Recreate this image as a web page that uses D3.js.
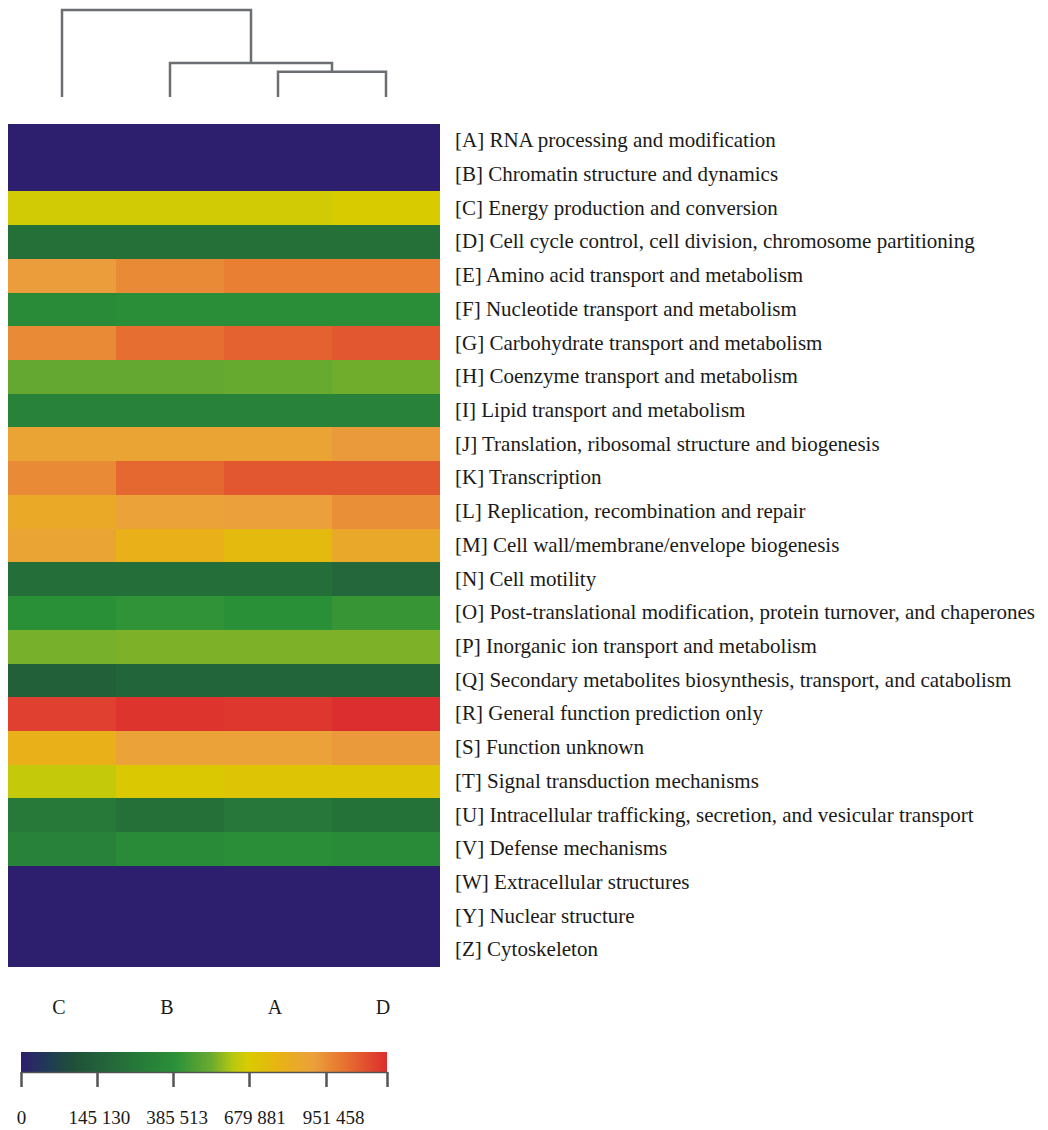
<!DOCTYPE html>
<html>
<head>
<meta charset="utf-8">
<script src="https://cdn.jsdelivr.net/npm/d3@7"></script>
<style>
  body { margin: 0; background: #fff; }
  text { font-family: "Liberation Serif", "DejaVu Serif", serif; fill: #1a1a1a; }
</style>
</head>
<body>
<div id="chart"></div>
<script>
// COG categories, top to bottom
let categories = [
  "[A] RNA processing and modification",
  "[B] Chromatin structure and dynamics",
  "[C] Energy production and conversion",
  "[D] Cell cycle control, cell division, chromosome partitioning",
  "[E] Amino acid transport and metabolism",
  "[F] Nucleotide transport and metabolism",
  "[G] Carbohydrate transport and metabolism",
  "[H] Coenzyme transport and metabolism",
  "[I] Lipid transport and metabolism",
  "[J] Translation, ribosomal structure and biogenesis",
  "[K] Transcription",
  "[L] Replication, recombination and repair",
  "[M] Cell wall/membrane/envelope biogenesis",
  "[N] Cell motility",
  "[O] Post-translational modification, protein turnover, and chaperones",
  "[P] Inorganic ion transport and metabolism",
  "[Q] Secondary metabolites biosynthesis, transport, and catabolism",
  "[R] General function prediction only",
  "[S] Function unknown",
  "[T] Signal transduction mechanisms",
  "[U] Intracellular trafficking, secretion, and vesicular transport",
  "[V] Defense mechanisms",
  "[W] Extracellular structures",
  "[Y] Nuclear structure",
  "[Z] Cytoskeleton"
];

// samples in dendrogram (column) order
let samples = ["C", "B", "A", "D"];

// values per sample, same order as categories
let valuesC = [0, 0, 661000, 229000, 915000, 368000, 960000, 520000, 322000, 883000, 960000, 844000, 883000,
  217000, 393000, 548000, 148000, 1128000, 805000, 640000, 275000, 322000, 0, 0, 0];
let valuesB = [0, 0, 661000, 229000, 960000, 380000, 1025000, 520000, 322000, 883000, 1038000, 896000, 805000,
  217000, 407000, 555000, 171000, 1154000, 896000, 689000, 229000, 368000, 0, 0, 0];
let valuesA = [0, 0, 661000, 229000, 986000, 380000, 1051000, 527000, 322000, 883000, 1077000, 909000, 754000,
  217000, 393000, 555000, 171000, 1148000, 896000, 708000, 264000, 380000, 0, 0, 0];
let valuesD = [0, 0, 675000, 229000, 986000, 380000, 1077000, 541000, 322000, 922000, 1077000, 948000, 857000,
  183000, 421000, 555000, 171000, 1167000, 922000, 708000, 241000, 368000, 0, 0, 0];

// dendrogram merge heights (leaf = 0, root = 1)
let mergeAD = 0.29;
let mergeBAD = 0.39;
let mergeRoot = 1.0;

// colour legend breaks (last one unlabeled)
let legendBreaks = [0, 145130, 385513, 679881, 951458, 1167000];

// colour ramp along the legend bar (0..1)
let rampStops = [0, 0.08, 0.15, 0.21, 0.42, 0.52, 0.58, 0.62, 0.70, 0.80, 0.88, 1.0];
let rampColors = ["#2e1f6e", "#1f3d52", "#1f5238", "#22603a", "#2a9038", "#6aab30", "#b8c810",
  "#d8cc00", "#e8b412", "#eba03c", "#e77430", "#dc2e2e"];

let W = 1048, H = 1130;
let heat = {left: 8, top: 124, width: 432, height: 843};
let dendro = {top: 10, bottom: 97};
let legend = {left: 21, top: 1052, width: 366, height: 20};

let svg = d3.select("#chart").append("svg")
    .attr("width", W)
    .attr("height", H);

let columns = {C: valuesC, B: valuesB, A: valuesA, D: valuesD};

let x = d3.scaleBand()
    .domain(samples)
    .range([heat.left, heat.left + heat.width]);

let y = d3.scaleBand()
    .domain(categories)
    .range([heat.top, heat.top + heat.height]);

// value -> legend position (ticks equally spaced, last segment shorter)
let legendX = d3.scaleLinear()
    .domain(legendBreaks)
    .range([0, 76, 152, 228, 305, 366]);

let ramp = d3.scaleLinear()
    .domain(rampStops)
    .range(rampColors)
    .interpolate(d3.interpolateRgb);

let colour = v => ramp(legendX(v) / legend.width);

// heatmap cells
let cells = [];
samples.forEach(s => {
    columns[s].forEach((v, i) => cells.push({sample: s, cat: categories[i], value: v}));
});

svg.append("g")
    .attr("shape-rendering", "crispEdges")
    .selectAll("rect")
    .data(cells)
    .enter()
    .append("rect")
    .attr("x", d => Math.round(x(d.sample)))
    .attr("y", d => Math.round(y(d.cat)))
    .attr("width", d => Math.round(x(d.sample) + x.bandwidth()) - Math.round(x(d.sample)))
    .attr("height", d => Math.round(y(d.cat) + y.bandwidth()) - Math.round(y(d.cat)))
    .attr("fill", d => colour(d.value));

// row labels
svg.append("g")
    .selectAll("text")
    .data(categories)
    .enter()
    .append("text")
    .attr("x", heat.left + heat.width + 15)
    .attr("y", d => y(d) + y.bandwidth() / 2 - 1)
    .attr("dy", "0.35em")
    .attr("font-size", 21)
    .text(d => d);

// column labels
svg.append("g")
    .selectAll("text")
    .data(samples)
    .enter()
    .append("text")
    .attr("x", d => x(d) + x.bandwidth() / 2 - 3)
    .attr("y", 1007)
    .attr("dy", "0.35em")
    .attr("text-anchor", "middle")
    .attr("font-size", 20)
    .text(d => d);

// dendrogram
let hy = d3.scaleLinear().domain([0, 1]).range([dendro.bottom, dendro.top]);
let cx = s => x(s) + x.bandwidth() / 2;

let nodeAD = {x: (cx("A") + cx("D")) / 2, h: mergeAD};
let nodeBAD = {x: (cx("B") + nodeAD.x) / 2, h: mergeBAD};
let links = [
    {a: {x: cx("A"), h: 0}, b: {x: cx("D"), h: 0}, h: mergeAD},
    {a: {x: cx("B"), h: 0}, b: nodeAD, h: mergeBAD},
    {a: {x: cx("C"), h: 0}, b: nodeBAD, h: mergeRoot}
];

svg.append("g")
    .selectAll("path")
    .data(links)
    .enter()
    .append("path")
    .attr("fill", "none")
    .attr("stroke", "#6b6e72")
    .attr("stroke-width", 2.5)
    .attr("d", d => "M" + d.a.x + "," + hy(d.a.h) +
        "V" + hy(d.h) + "H" + d.b.x + "V" + hy(d.b.h));

// colour legend
let grad = svg.append("defs").append("linearGradient")
    .attr("id", "ramp")
    .attr("x1", "0%").attr("x2", "100%");
grad.selectAll("stop")
    .data(rampStops)
    .enter()
    .append("stop")
    .attr("offset", d => (d * 100) + "%")
    .attr("stop-color", (d, i) => rampColors[i]);

let lg = svg.append("g")
    .attr("transform", "translate(" + legend.left + "," + legend.top + ")");

lg.append("rect")
    .attr("width", legend.width)
    .attr("height", legend.height)
    .attr("fill", "url(#ramp)");

let fmt = d3.formatLocale({decimal: ".", thousands: " ", grouping: [3], currency: ["", ""]}).format(",");

let axis = d3.axisBottom(legendX)
    .tickValues(legendBreaks)
    .tickSize(15)
    .tickSizeOuter(0)
    .tickPadding(24)
    .tickFormat((d, i) => i < legendBreaks.length - 1 ? fmt(d) : "");

let ax = lg.append("g")
    .attr("transform", "translate(0," + legend.height + ")")
    .call(axis);

ax.select(".domain").attr("stroke", "#555").attr("stroke-width", 1.5);
ax.selectAll(".tick line").attr("stroke", "#555").attr("stroke-width", 2.5);
ax.selectAll(".tick text")
    .attr("font-family", "Liberation Serif, serif")
    .attr("font-size", 19)
    .attr("fill", "#1a1a1a")
    .attr("dx", (d, i) => i * 1.8);
</script>
</body>
</html>
